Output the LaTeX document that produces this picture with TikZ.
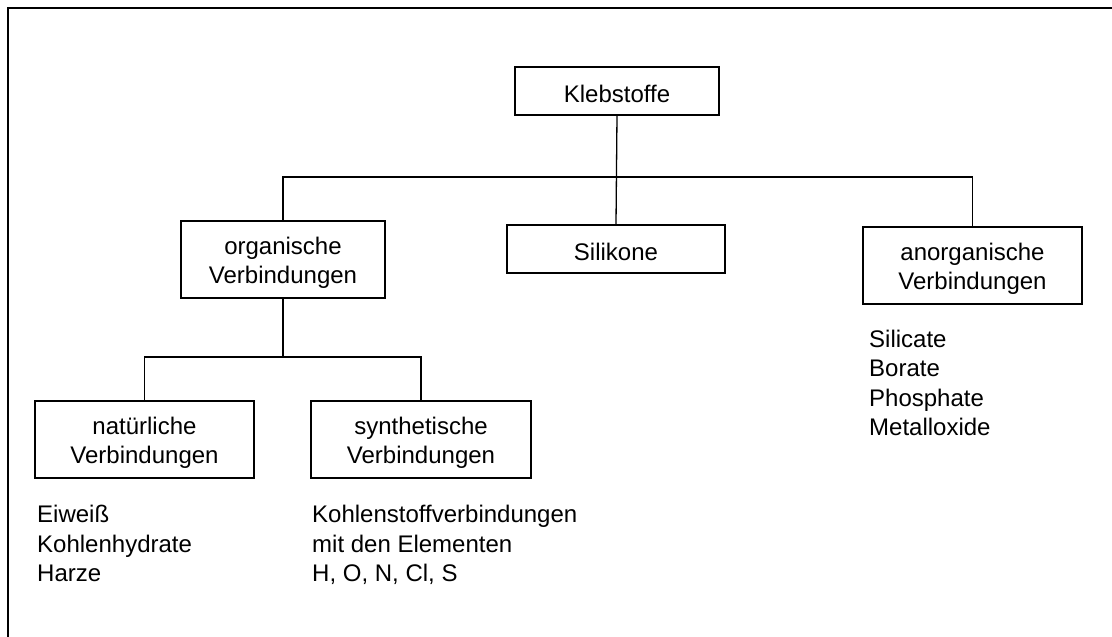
\documentclass[tikz,border=0pt]{standalone}
\usepackage{fontspec}
\setmainfont{Liberation Sans}
\begin{document}
\begin{tikzpicture}[x=1pt,y=-1pt,
  every node/.style={font=\fontsize{24}{29.5}\selectfont, text=black},
  box/.style={draw=black, line width=1.3pt, inner sep=0pt, minimum height=#1},
  box/.default=48pt,
  boxtext/.style={align=center, inner sep=0pt},
  item/.style={anchor=base west, inner sep=0pt},
  link/.style={draw=black, line width=1.3pt},
  frame/.style={draw=black, line width=2pt}]
\useasboundingbox (0,0) rectangle (1112,637);
\clip (0,0) rectangle (1112,637);
% outer frame, running past the right and bottom edges
\draw[frame] (7.8,700) -- (7.8,7.8) -- (1200,7.8);

% boxes
\node[box, minimum width=204pt] (kleb) at (617,91) {};
\node[box=77pt, minimum width=204pt] (org) at (283,259.5) {};
\node[box, minimum width=218pt] (sil) at (616,249) {};
\node[box=77pt, minimum width=219pt] (anorg) at (972.5,265.5) {};
\node[box=77pt, minimum width=219pt] (nat) at (144.5,439.5) {};
\node[box=77pt, minimum width=220pt] (syn) at (421,439.5) {};

% box labels
\node[boxtext] (kleb-t) at ([yshift=-3pt]kleb.center) {Klebstoffe};
\node[boxtext] (org-t) at ([yshift=-3.5pt]org.center) {organische\\Verbindungen};
\node[boxtext] (sil-t) at ([yshift=-3pt]sil.center) {Silikone};
\node[boxtext] (anorg-t) at ([yshift=-3.5pt]anorg.center) {anorganische\\Verbindungen};
\node[boxtext] (nat-t) at ([yshift=-3.5pt]nat.center) {natürliche\\Verbindungen};
\node[boxtext] (syn-t) at ([yshift=-3.5pt]syn.center) {synthetische\\Verbindungen};

% junctions
\coordinate (top) at (617,177);
\coordinate (mid) at (283,357);

% connectors
\draw[link] (kleb.south) -- (sil.north);
\draw[link] (org.north) -- (org.north |- top) -- (anorg.north |- top) -- (anorg.north);
\draw[link] (org.south) -- (mid);
\draw[link] (nat.north) -- (nat.north |- mid) -- (syn.north |- mid) -- (syn.north);

% lists
\node[item] (n1) at (37,522.8) {Eiweiß};
\node[item] (n2) at (37,552.3) {Kohlenhydrate};
\node[item] (n3) at (37,581.8) {Harze};
\node[item] (s1) at (312,522.8) {Kohlenstoffverbindungen};
\node[item] (s2) at (312,552.3) {mit den Elementen};
\node[item] (s3) at (312,581.8) {H, O, N, Cl, S};
\node[item] (a1) at (869,347.3) {Silicate};
\node[item] (a2) at (869,376.8) {Borate};
\node[item] (a3) at (869,406.3) {Phosphate};
\node[item] (a4) at (869,435.8) {Metalloxide};
\end{tikzpicture}
\end{document}
